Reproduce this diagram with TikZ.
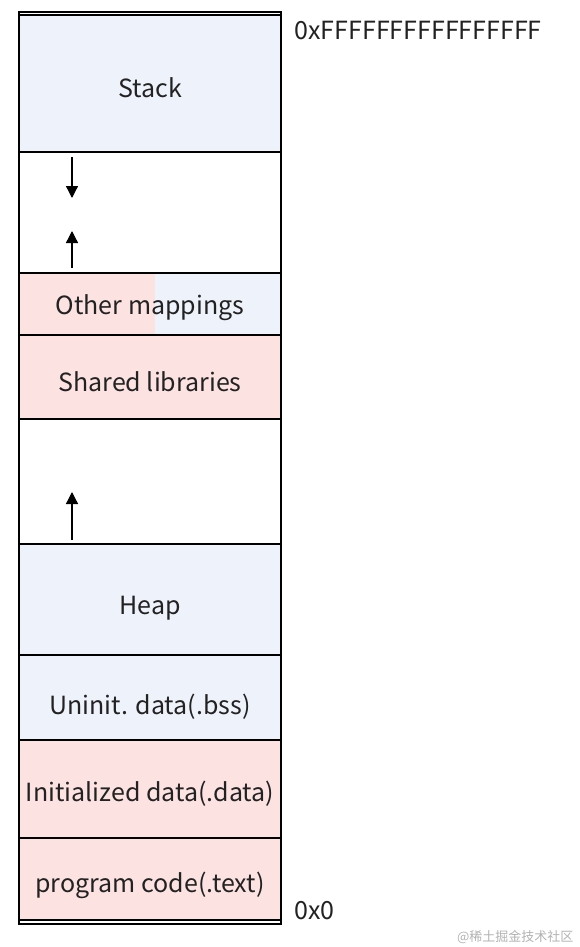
\documentclass[tikz,border=0pt]{standalone}
\usepackage{fontspec}
\usetikzlibrary{arrows.meta}
\newfontfamily\src{Noto Sans CJK SC}
\definecolor{segblue}{HTML}{EEF2FA}
\definecolor{segpink}{HTML}{FDE2E2}
\definecolor{txt}{HTML}{222222}
\begin{document}
\begin{tikzpicture}[x=1pt,y=-1pt,
  seg/.style={draw=black,line width=1.4pt},
  lbl/.style={font=\src\fontsize{25}{28}\selectfont,text=txt},
  addr/.style={font=\src\fontsize{25}{28}\selectfont,text=txt,anchor=west},
  growarrow/.style={-{Triangle[width=12pt,length=12pt]},line width=1.3pt}]
\useasboundingbox (0,0) rectangle (579,947);
% segments
\fill[segblue] (19,15) rectangle (281,152);
\fill[white] (19,152) rectangle (281,273);
\fill[segpink] (19,273) rectangle (155,335);
\fill[segblue] (155,273) rectangle (281,335);
\fill[segpink] (19,335) rectangle (281,419);
\fill[white] (19,419) rectangle (281,544);
\fill[segblue] (19,544) rectangle (281,655);
\fill[segblue] (19,655) rectangle (281,740);
\fill[segpink] (19,740) rectangle (281,838);
\fill[segpink] (19,838) rectangle (281,920);
% borders
\draw[seg] (19,12) rectangle (281,924);
\draw[seg] (19,15) -- (281,15);
\draw[seg] (19,920) -- (281,920);
\foreach \yy in {152,273,335,419,544,655,740,838} \draw[seg] (19,\yy) -- (281,\yy);
% labels
\node[lbl] (stack) at (150,88) {Stack};
\node[lbl] (other) at (150,308) {Other mappings};
\node[lbl] (shared) at (150,382) {Shared libraries};
\node[lbl] (heap) at (150,608) {Heap};
\node[lbl] (bss) at (150,707) {Uninit. data(.bss)};
\node[lbl] (data) at (150,794) {Initialized data(.data)};
\node[lbl] (text) at (150,885) {program code(.text)};
% arrows
\coordinate (a1s) at (72,157); \coordinate (a1e) at (72,198);
\coordinate (a2s) at (72,268); \coordinate (a2e) at (72,231);
\coordinate (a3s) at (72,540); \coordinate (a3e) at (72,492);
\draw[growarrow] (a1s) -- (a1e);
\draw[growarrow] (a2s) -- (a2e);
\draw[growarrow] (a3s) -- (a3e);
% addresses
\node[addr] (top) at (291,31) {0xFFFFFFFFFFFFFFFF};
\node[addr] (bot) at (291,911) {0x0};
\node[font=\src\fontsize{13}{14}\selectfont,text=black!30,anchor=east] (wm) at (577,937) {@稀土掘金技术社区};
\end{tikzpicture}
\end{document}
